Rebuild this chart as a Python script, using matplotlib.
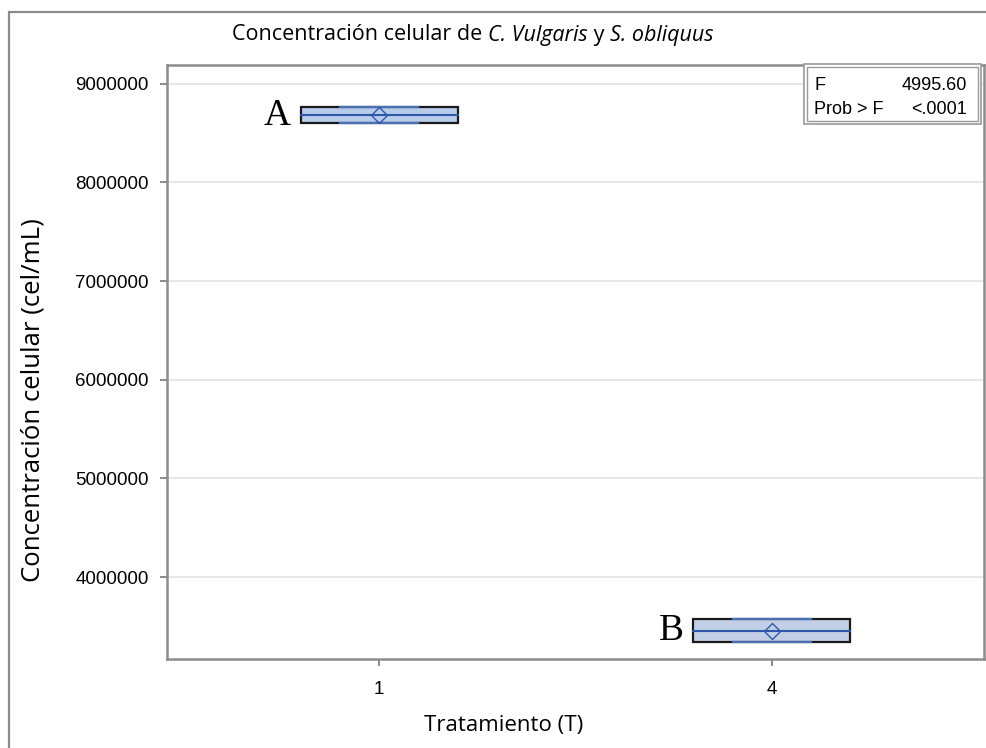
import matplotlib
matplotlib.use("Agg")
import matplotlib.pyplot as plt
from matplotlib.patches import Rectangle
import numpy as np

# ---- data ----
categories = ["1", "4"]
means = [8680000, 3455000]
upper = [8765000, 3575000]
lower = [8605000, 3340000]
letters = ["A", "B"]
yticks = [4000000, 5000000, 6000000, 7000000, 8000000, 9000000]
stat_names = ["F", "Prob > F"]
stat_values = ["4995.60", "<.0001"]

W, H = 986, 748
fig = plt.figure(figsize=(W / 100, H / 100), dpi=100)
fig.patch.set_facecolor("white")

# outer frame
fig.patches.append(Rectangle((9 / W, -0.05), 1.2, 1 - 12 / H + 0.05,
                             transform=fig.transFigure, fill=False,
                             edgecolor="#8c8c8c", linewidth=1.6))

ax = fig.add_axes([167 / W, 1 - 659 / H, (984 - 167) / W, (659 - 65) / H])
ax.set_xlim(-0.54, 1.54)
ax.set_ylim(3170000, 9190000)

ax.set_yticks(yticks)
ax.set_yticklabels([str(v) for v in yticks], fontsize=13.5, family="Liberation Sans")
x = np.arange(len(categories))
ax.set_xticks(x)
ax.set_xticklabels(categories, fontsize=13.5, family="Liberation Sans")
ax.tick_params(axis="y", color="#808080", length=5, width=1.3, pad=8)
ax.tick_params(axis="x", color="#808080", length=5, width=1.3, pad=11)
ax.grid(axis="y", color="#e3e3e3", linewidth=1.2)
ax.set_axisbelow(True)
for s in ax.spines.values():
    s.set_color("#8c8c8c")
    s.set_linewidth(1.8)

hw = 0.2
fills = ["#b7cbea", "#c3cfe6"]
blue = "#2e57a8"
for i in range(len(categories)):
    lo, hi, m = lower[i], upper[i], means[i]
    ax.add_patch(Rectangle((x[i] - hw, lo), 2 * hw, hi - lo, facecolor=fills[i],
                           edgecolor="#1a1a1a", linewidth=1.6, zorder=3))
    ax.plot([x[i] - hw / 2, x[i] + hw / 2], [hi, hi], color="#4a6fb5", lw=1.6, zorder=4)
    ax.plot([x[i] - hw / 2, x[i] + hw / 2], [lo, lo], color="#4a6fb5", lw=1.6, zorder=4)
    ax.plot([x[i] - hw, x[i] + hw], [m, m], color=blue, lw=1.5, zorder=5)
    ax.plot([x[i]], [m], marker="D", markersize=8, markerfacecolor="none",
            markeredgecolor=blue, markeredgewidth=1.0, zorder=6)
    ax.text(x[i] - hw - 0.025, m, letters[i], ha="right", va="center",
            fontsize=27, family="Liberation Serif", zorder=6)

# stats box
bx0, by0, bx1, by1 = 804 / W, 1 - 124 / H, 981 / W, 1 - 64 / H
fig.patches.append(Rectangle((bx0, by0), bx1 - bx0, by1 - by0, transform=fig.transFigure,
                             fill=True, facecolor="white", edgecolor="#9a9a9a", linewidth=1.2, zorder=10))
fig.patches.append(Rectangle((bx0 + 3 / W, by0 + 3 / H), bx1 - bx0 - 6 / W, by1 - by0 - 6 / H,
                             transform=fig.transFigure, fill=False, edgecolor="#9a9a9a",
                             linewidth=1.0, zorder=10))
rows_y = [1 - 85 / H, 1 - 109 / H]
for n, v, ry in zip(stat_names, stat_values, rows_y):
    fig.text(814 / W, ry, n, ha="left", va="center", fontsize=13, family="Liberation Sans", zorder=11)
    fig.text(967 / W, ry, v, ha="right", va="center", fontsize=13, family="Liberation Sans", zorder=11)

# title with italic parts
parts = [("Concentración celular de ", "normal"), ("C. Vulgaris", "italic"),
         (" y ", "normal"), ("S. obliquus", "italic")]
fig.canvas.draw()
r = fig.canvas.get_renderer()
tmp = []
for t, st in parts:
    tt = fig.text(0, 0, t, fontsize=15.5, family="Open Sans", style=st)
    tmp.append(tt)
widths = [tt.get_window_extent(r).width for tt in tmp]
for tt in tmp:
    tt.remove()
total = sum(widths)
cx = 473
start = cx - total / 2
for (t, st), w in zip(parts, widths):
    fig.text(start / W, 1 - 35 / H, t, fontsize=15.5, family="Open Sans", style=st,
             ha="left", va="center")
    start += w

fig.text(504 / W, 1 - 725 / H, "Tratamiento (T)", fontsize=16, family="Open Sans",
         ha="center", va="center")
fig.text(33 / W, 1 - 400 / H, "Concentración celular (cel/mL)", fontsize=18.5,
         family="Open Sans", rotation=90, ha="center", va="center")

fig.savefig("out.png", dpi=100)
